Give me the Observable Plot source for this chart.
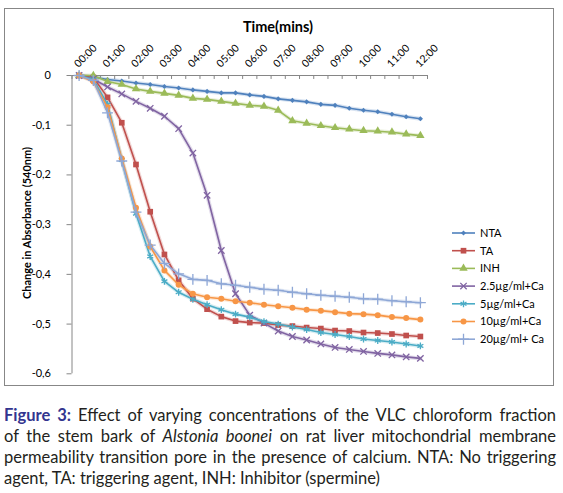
<!DOCTYPE html>
<html><head><meta charset="utf-8">
<script src="https://cdn.jsdelivr.net/npm/d3@7"></script>
<script src="https://cdn.jsdelivr.net/npm/@observablehq/plot@0.6"></script>
<style>
body{margin:0;background:#fff;width:563px;height:493px;position:relative;overflow:hidden;font-family:Lato,sans-serif}
#frame{position:absolute;left:4px;top:8px;width:548px;height:376px;border:1px solid #878787;}
#chart{position:absolute;left:0;top:0}
#caption{position:absolute;left:4px;top:405px;width:552px;font-family:Lato,"Open Sans",sans-serif;font-size:16.5px;line-height:21px;color:#231f20}
#caption .j{text-align:justify;text-align-last:justify;white-space:nowrap}
#caption .l{text-align:left;white-space:nowrap}
#caption b{color:#33358f}
</style></head>
<body>
<div id="frame"></div>
<div id="chart"></div>
<div id="caption">
<div class="j"><b>Figure 3:</b> Effect of varying concentrations of the VLC chloroform fraction</div>
<div class="j">of the stem bark of <i>Alstonia boonei</i> on rat liver mitochondrial membrane</div>
<div class="j">permeability transition pore in the presence of calcium. NTA: No triggering</div>
<div class="l">agent, TA: triggering agent, INH: Inhibitor (spermine)</div>
</div>
<script>
const times = ["00:00","00:30","01:00","01:30","02:00","02:30","03:00","03:30","04:00","04:30","05:00","05:30","06:00","06:30","07:00","07:30","08:00","08:30","09:00","09:30","10:00","10:30","11:00","11:30","12:00"];
const yTicks = [0,-0.1,-0.2,-0.3,-0.4,-0.5,-0.6];
const yTickLabels = ["0","-0,1","-0,2","-0,3","-0,4","-0,5","-0,6"];

const seriesNames = ["NTA","TA","INH","2.5\u00b5g/ml+Ca","5\u00b5g/ml+Ca","10\u00b5g/ml+Ca","20\u00b5g/ml+ Ca"];
const nta   = [0,-0.003,-0.008,-0.011,-0.015,-0.018,-0.022,-0.025,-0.029,-0.032,-0.035,-0.035,-0.039,-0.042,-0.047,-0.050,-0.053,-0.058,-0.060,-0.066,-0.070,-0.073,-0.078,-0.083,-0.087];
const ta    = [0,-0.004,-0.044,-0.095,-0.179,-0.274,-0.360,-0.412,-0.449,-0.470,-0.485,-0.494,-0.497,-0.498,-0.502,-0.504,-0.507,-0.509,-0.513,-0.514,-0.517,-0.518,-0.520,-0.523,-0.525];
const inh   = [0,0,-0.012,-0.018,-0.027,-0.032,-0.036,-0.040,-0.046,-0.048,-0.052,-0.056,-0.060,-0.062,-0.070,-0.091,-0.096,-0.101,-0.105,-0.108,-0.111,-0.112,-0.114,-0.118,-0.121];
const ca25  = [0,-0.007,-0.023,-0.037,-0.052,-0.066,-0.082,-0.107,-0.156,-0.241,-0.352,-0.439,-0.482,-0.498,-0.514,-0.525,-0.532,-0.540,-0.547,-0.551,-0.555,-0.559,-0.562,-0.566,-0.569];
const ca5   = [0,-0.008,-0.058,-0.170,-0.278,-0.364,-0.414,-0.436,-0.450,-0.461,-0.471,-0.480,-0.486,-0.495,-0.500,-0.506,-0.511,-0.517,-0.521,-0.525,-0.530,-0.533,-0.536,-0.540,-0.544];
const ca10  = [0,-0.012,-0.064,-0.167,-0.266,-0.344,-0.392,-0.421,-0.439,-0.446,-0.449,-0.454,-0.457,-0.461,-0.464,-0.467,-0.471,-0.473,-0.476,-0.479,-0.480,-0.482,-0.486,-0.488,-0.491];
const ca20  = [0,-0.010,-0.075,-0.172,-0.275,-0.341,-0.378,-0.399,-0.410,-0.412,-0.419,-0.422,-0.426,-0.430,-0.432,-0.436,-0.439,-0.442,-0.444,-0.446,-0.449,-0.450,-0.453,-0.455,-0.457];
const seriesValues = [nta, ta, inh, ca25, ca5, ca10, ca20];
const colors = ["#4f81bd","#c0504d","#9bbb59","#8064a2","#4bacc6","#f79646","#8ea7d6"];
const symbols = ["diamond2","square","triangle","times","asterisk","circle","plus"];
const symbolSizes = [2.3,3.2,3.1,3.0,3.2,3.0,3.6];
const filled = {diamond2:true,square:true,triangle:true,circle:true};

const series = seriesNames.map((name, k) => ({
  name, color: colors[k], symbol: symbols[k], r: symbolSizes[k],
  rows: seriesValues[k].map((v, i) => ({i, v}))
}));

const boundaries = times.map((_, i) => i - 0.5).concat([times.length - 0.5]);
const labelIdx = times.map((_, i) => i).filter(i => i % 2 === 0);

const marks = [
  Plot.ruleY([0], {x1: -0.5, x2: times.length - 0.5, stroke: "#868686"}),
  Plot.ruleX(boundaries, {x: d => d, y1: 0, y2: -0.008, stroke: "#868686"}),
  Plot.ruleX([-0.5], {y1: -0.6, y2: 0, stroke: "#868686"}),
  Plot.axisY({ticks: yTicks, tickFormat: d => yTickLabels[yTicks.indexOf(d)], tickSize: 5, tickPadding: 16, stroke: "#868686", fontSize: 11, label: null}),
  Plot.text(labelIdx, {x: d => d, y: () => 0, text: d => times[d], rotate: -45, textAnchor: "start", dx: -3, dy: -10, fontSize: 10.5, fill: "#000"})
];
for (const s of series) {
  marks.push(Plot.line(s.rows, {x: "i", y: "v", stroke: s.color, strokeWidth: 4, strokeOpacity: 0.22}));
}
for (const s of series) {
  marks.push(Plot.line(s.rows, {x: "i", y: "v", stroke: s.color, strokeWidth: 1.6}));
  if (filled[s.symbol]) marks.push(Plot.dot(s.rows, {x: "i", y: "v", symbol: s.symbol, r: s.r, fill: s.color}));
  else marks.push(Plot.dot(s.rows, {x: "i", y: "v", symbol: s.symbol, r: s.r, stroke: s.color, strokeWidth: 1.3}));
}

const chart = Plot.plot({
  width: 563, height: 390,
  marginLeft: 71.5, marginRight: 136, marginTop: 75, marginBottom: 16.7,
  x: {type: "linear", domain: [-0.5, times.length - 0.5], axis: null},
  y: {domain: [-0.6, 0], axis: null},
  style: {background: "transparent", fontFamily: "Lato, sans-serif", color: "#000"},
  marks
});
document.getElementById("chart").appendChild(chart);

const svg = d3.select(chart);
svg.append("text").attr("x", 278).attr("y", 32).attr("text-anchor", "middle")
  .attr("font-weight", "bold").attr("font-size", 14.5).attr("font-family", "Lato, sans-serif").text("Time(mins)");
svg.append("text").attr("transform", "translate(31,223) rotate(-90)").attr("text-anchor", "middle")
  .attr("font-weight", "bold").attr("font-size", 11).attr("font-family", "Lato, sans-serif").text("Change in Absorbance (540nm)");

const symMap = {diamond2: d3.symbolDiamond2, square: d3.symbolSquare, triangle: d3.symbolTriangle, times: d3.symbolTimes, asterisk: d3.symbolAsterisk, circle: d3.symbolCircle, plus: d3.symbolPlus};
const lg = svg.append("g").attr("font-family", "Lato, sans-serif").attr("font-size", 11).attr("text-anchor", "start");
series.forEach((s, k) => {
  const y = 233 + k * 17.7;
  lg.append("line").attr("x1", 452).attr("x2", 475).attr("y1", y).attr("y2", y).attr("stroke", s.color).attr("stroke-width", 1.6);
  const p = lg.append("path").attr("transform", `translate(463.5,${y})`)
    .attr("d", d3.symbol(symMap[s.symbol], Math.PI * s.r * s.r)());
  if (filled[s.symbol]) p.attr("fill", s.color); else p.attr("fill", "none").attr("stroke", s.color).attr("stroke-width", 1.3);
  lg.append("text").attr("x", 480).attr("y", y).attr("dy", "0.35em").attr("fill", "#000").text(s.name);
});
</script>
</body></html>
